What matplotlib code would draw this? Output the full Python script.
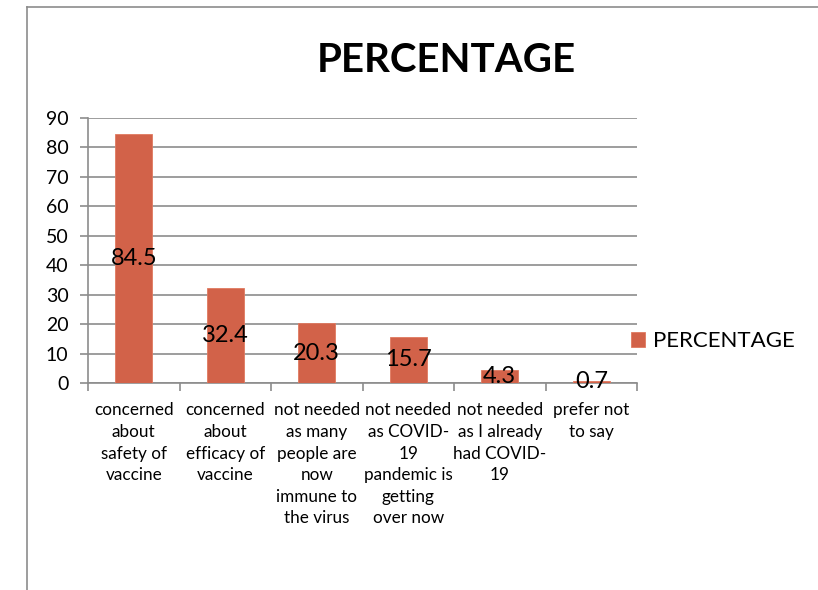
import numpy as np
import matplotlib
matplotlib.use('Agg')
import matplotlib.pyplot as plt
from matplotlib.lines import Line2D

# data
categories = ['concerned\nabout\nsafety of\nvaccine',
              'concerned\nabout\nefficacy of\nvaccine',
              'not needed\nas many\npeople are\nnow\nimmune to\nthe virus',
              'not needed\nas COVID-\n19\npandemic is\ngetting\nover now',
              'not needed\nas I already\nhad COVID-\n19',
              'prefer not\nto say']
percentage = [84.5, 32.4, 20.3, 15.7, 4.3, 0.7]
y_ticks = [0, 10, 20, 30, 40, 50, 60, 70, 80, 90]

plt.rcParams['font.family'] = ['Lato', 'DejaVu Sans']
bar_color = '#D26249'
grid_color = '#8C8C8C'

W, H = 818, 590
fig = plt.figure(figsize=(W / 100, H / 100), dpi=100)

# outer chart border (only top and left visible in the reference)
fig.add_artist(Line2D([27 / W, 27 / W], [0, 1 - 7 / H], color='#8C8C8C', lw=1.2))
fig.add_artist(Line2D([27 / W, 1], [1 - 7 / H, 1 - 7 / H], color='#8C8C8C', lw=1.2))

ax = fig.add_axes([88 / W, 1 - 383 / H, (637 - 88) / W, (383 - 118) / H])

x = np.arange(len(categories))
bars = ax.bar(x, percentage, width=0.4, color=bar_color, edgecolor='#E07A60',
              linewidth=0.6, label='PERCENTAGE', zorder=3)

# data labels centred inside the bars
for xi, v in zip(x, percentage):
    ax.text(xi, v / 2, f'{v}', ha='center', va='center', fontsize=17, zorder=4)

ax.set_xlim(-0.5, len(categories) - 0.5)
ax.set_ylim(0, 90)
ax.set_yticks(y_ticks)
ax.set_yticklabels([str(t) for t in y_ticks], fontsize=14)
ax.yaxis.grid(True, color=grid_color, lw=1.2, zorder=0)

ax.set_xticks(x)
ax.set_xticklabels(categories, fontsize=12.3, linespacing=1.43, va='top')
ax.set_xticks(np.arange(len(categories) + 1) - 0.5, minor=True)
ax.tick_params(axis='x', which='major', length=0, pad=14)
ax.tick_params(axis='x', which='minor', length=6, color=grid_color, width=1.2)
ax.tick_params(axis='y', length=6, color=grid_color, width=1.2, pad=8)

for side in ['top', 'right']:
    ax.spines[side].set_visible(False)
for side in ['left', 'bottom']:
    ax.spines[side].set_color(grid_color)
    ax.spines[side].set_linewidth(1.2)

fig.text(446 / W, 1 - 60 / H, 'PERCENTAGE', ha='center', va='center',
         fontsize=29, fontweight='bold')

fig.legend(handles=[bars], labels=['PERCENTAGE'], loc='center left',
           bbox_to_anchor=(611 / W, 1 - 341 / H), frameon=False, fontsize=16,
           handlelength=0.65, handleheight=0.65, handletextpad=0.35)

plt.savefig('out.png', dpi=100)
